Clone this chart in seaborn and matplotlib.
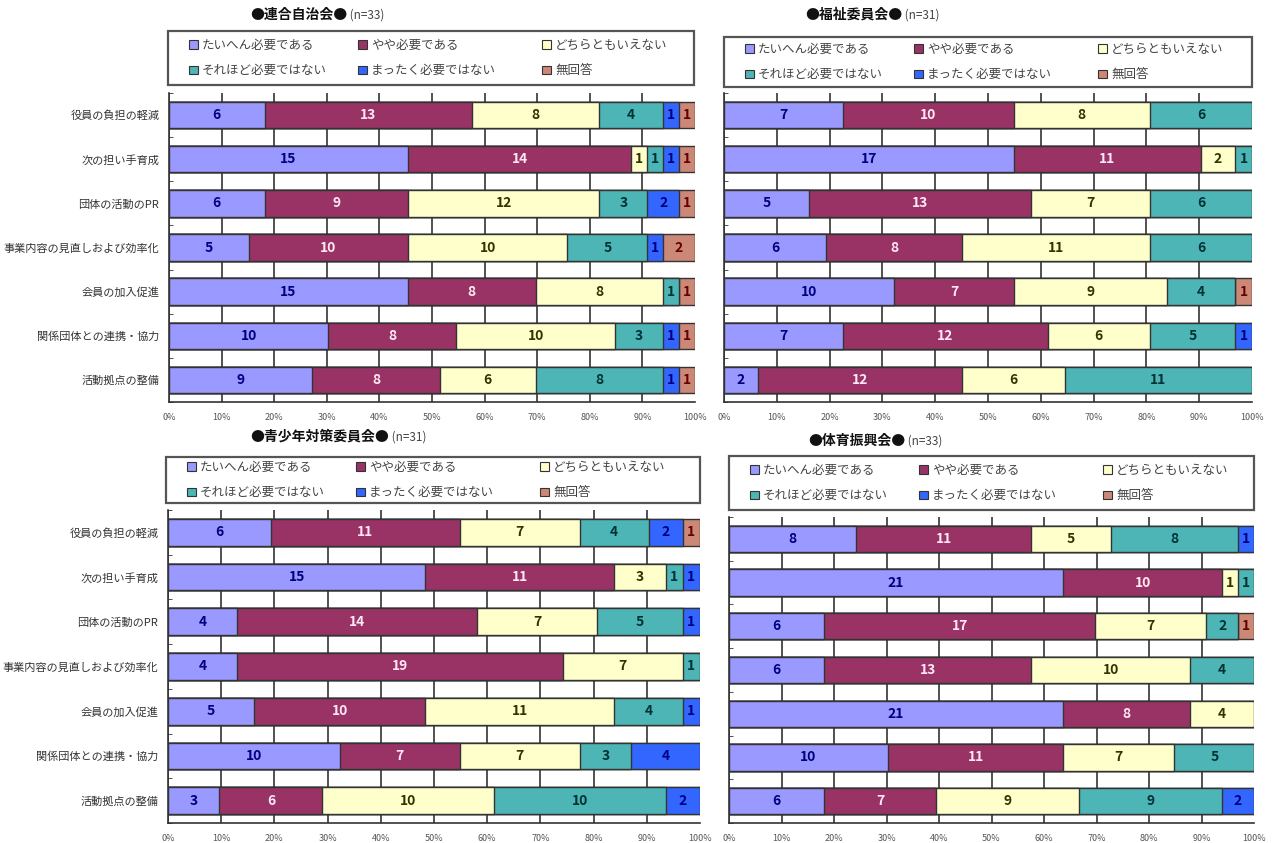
import numpy as np
import pandas as pd
import matplotlib
matplotlib.use('Agg')
import matplotlib.pyplot as plt
from matplotlib.patches import Patch, Rectangle
import seaborn as sns

sns.set_style('white')
plt.rcParams['font.family'] = ['Noto Sans CJK JP', 'DejaVu Sans']

# items (top to bottom)
items = ['役員の負担の軽減', '次の担い手育成', '団体の活動のPR', '事業内容の見直しおよび効率化',
         '会員の加入促進', '関係団体との連携・協力', '活動拠点の整備']
levels = ['たいへん必要である', 'やや必要である', 'どちらともいえない',
          'それほど必要ではない', 'まったく必要ではない', '無回答']
titles = ['●連合自治会●', '●福祉委員会●', '●青少年対策委員会●', '●体育振興会●']
n_values = [33, 31, 31, 33]

# counts per item, columns follow `levels`
rengo = [[6, 13, 8, 4, 1, 1],
         [15, 14, 1, 1, 1, 1],
         [6, 9, 12, 3, 2, 1],
         [5, 10, 10, 5, 1, 2],
         [15, 8, 8, 1, 0, 1],
         [10, 8, 10, 3, 1, 1],
         [9, 8, 6, 8, 1, 1]]
fukushi = [[7, 10, 8, 6, 0, 0],
           [17, 11, 2, 1, 0, 0],
           [5, 13, 7, 6, 0, 0],
           [6, 8, 11, 6, 0, 0],
           [10, 7, 9, 4, 0, 1],
           [7, 12, 6, 5, 1, 0],
           [2, 12, 6, 11, 0, 0]]
seishonen = [[6, 11, 7, 4, 2, 1],
             [15, 11, 3, 1, 1, 0],
             [4, 14, 7, 5, 1, 0],
             [4, 19, 7, 1, 0, 0],
             [5, 10, 11, 4, 1, 0],
             [10, 7, 7, 3, 4, 0],
             [3, 6, 10, 10, 2, 0]]
taiiku = [[8, 11, 5, 8, 1, 0],
          [21, 10, 1, 1, 0, 0],
          [6, 17, 7, 2, 0, 1],
          [6, 13, 10, 4, 0, 0],
          [21, 8, 4, 0, 0, 0],
          [10, 11, 7, 5, 0, 0],
          [6, 7, 9, 9, 2, 0]]
panels = [rengo, fukushi, seishonen, taiiku]

bar_colors = ['#9999FF', '#993366', '#FFFFCC', '#4DB5B5', '#3366FF', '#CC8877']
text_colors = ['#000080', '#FFE8F4', '#333300', '#003333', '#000080', '#660000']

W, H = 1276, 843
fig = plt.figure(figsize=(W / 100, H / 100), dpi=100)


def frac(x0, y0, x1, y1):
    # pixel box (top-left origin) -> figure fraction [l, b, w, h]
    return [x0 / W, 1 - y1 / H, (x1 - x0) / W, (y1 - y0) / H]


ax_boxes = [(169, 93, 695, 402), (724, 93, 1252, 402),
            (168, 510, 700, 823), (729, 517, 1254, 823)]
leg_boxes = [(168, 31, 694, 85), (724, 37, 1252, 87),
             (166, 457, 700, 503), (729, 456, 1254, 510)]
title_pos = [(250, 15), (805, 15), (250, 437), (808, 441)]

for p, counts in enumerate(panels):
    ax = fig.add_axes(frac(*ax_boxes[p]))
    df = pd.DataFrame(counts, columns=levels)
    pct = df[levels].div(n_values[p]) * 100
    cum = pct.cumsum(axis=1)
    cum['item'] = items

    # stacked look: draw cumulative bars from the widest down
    for k in reversed(range(len(levels))):
        sns.barplot(data=cum, x=levels[k], y='item', order=items, orient='h',
                    color=bar_colors[k], saturation=1, width=0.6,
                    edgecolor='#333333', linewidth=1.0, errorbar=None, ax=ax)

    for i in range(len(items)):
        for k in range(len(levels)):
            v = counts[i][k]
            if v == 0:
                continue
            xc = cum.iloc[i, k] - pct.iloc[i, k] / 2
            ax.text(xc, i, str(v), ha='center', va='center', fontsize=10,
                    fontweight='bold', color=text_colors[k])

    ax.set_xlim(0, 100)
    ax.set_ylim(6.5, -0.5)
    ax.set_xticks(range(0, 101, 10))
    ax.set_xticklabels([f'{t}%' for t in range(0, 101, 10)], fontsize=6.5, color='#555555')
    ax.grid(axis='x', color='#333333', lw=1.2)
    ax.get_xgridlines()[-1].set_visible(False)
    ax.set_axisbelow(True)
    ax.set_xlabel('')
    ax.set_ylabel('')
    ax.tick_params(axis='x', length=0, pad=8)
    ax.tick_params(axis='y', which='major', length=0, pad=7)
    ax.set_yticks(np.arange(-0.5, 7, 1), minor=True)
    ax.tick_params(axis='y', which='minor', direction='in', length=3, left=True, color='#333333')
    if p % 2 == 0:
        ax.set_yticks(range(len(items)))
        ax.set_yticklabels(items, fontsize=8, color='#333333')
    else:
        ax.set_yticklabels([])
    for s in ['top', 'right']:
        ax.spines[s].set_visible(False)
    for s in ['left', 'bottom']:
        ax.spines[s].set_color('#333333')
        ax.spines[s].set_linewidth(1.2)

    # legend frame + one small legend per column (row-major like the original)
    lx0, ly0, lx1, ly1 = leg_boxes[p]
    fig.patches.append(Rectangle((lx0 / W, 1 - ly1 / H), (lx1 - lx0) / W, (ly1 - ly0) / H,
                                 transform=fig.transFigure, facecolor='white',
                                 edgecolor='#555555', lw=1.6, zorder=1))
    ymid = 1 - (ly0 + 0.5 * (ly1 - ly0)) / H
    col_off = [21, 190, 374]
    for c in range(3):
        hs = [Patch(facecolor=bar_colors[k], edgecolor='#333333', lw=0.8) for k in (c, c + 3)]
        fig.legend(hs, [levels[c], levels[c + 3]], loc='center left',
                   bbox_to_anchor=((lx0 + col_off[c]) / W, ymid),
                   bbox_transform=fig.transFigure, fontsize=9, frameon=False,
                   handlelength=0.7, handleheight=0.7, handletextpad=0.35,
                   labelspacing=1.0, borderpad=0, borderaxespad=0,
                   labelcolor='#444444')

    tx, ty = title_pos[p]
    t1 = fig.text(tx / W, 1 - ty / H, titles[p], ha='left', va='center',
                  fontsize=10, fontweight='bold', color='#111111')
    ax.annotate(f' (n={n_values[p]})', xy=(1, 0.5), xycoords=t1, ha='left', va='center',
                fontsize=8.5, color='#444444')

fig.savefig('out.png', dpi=100)
